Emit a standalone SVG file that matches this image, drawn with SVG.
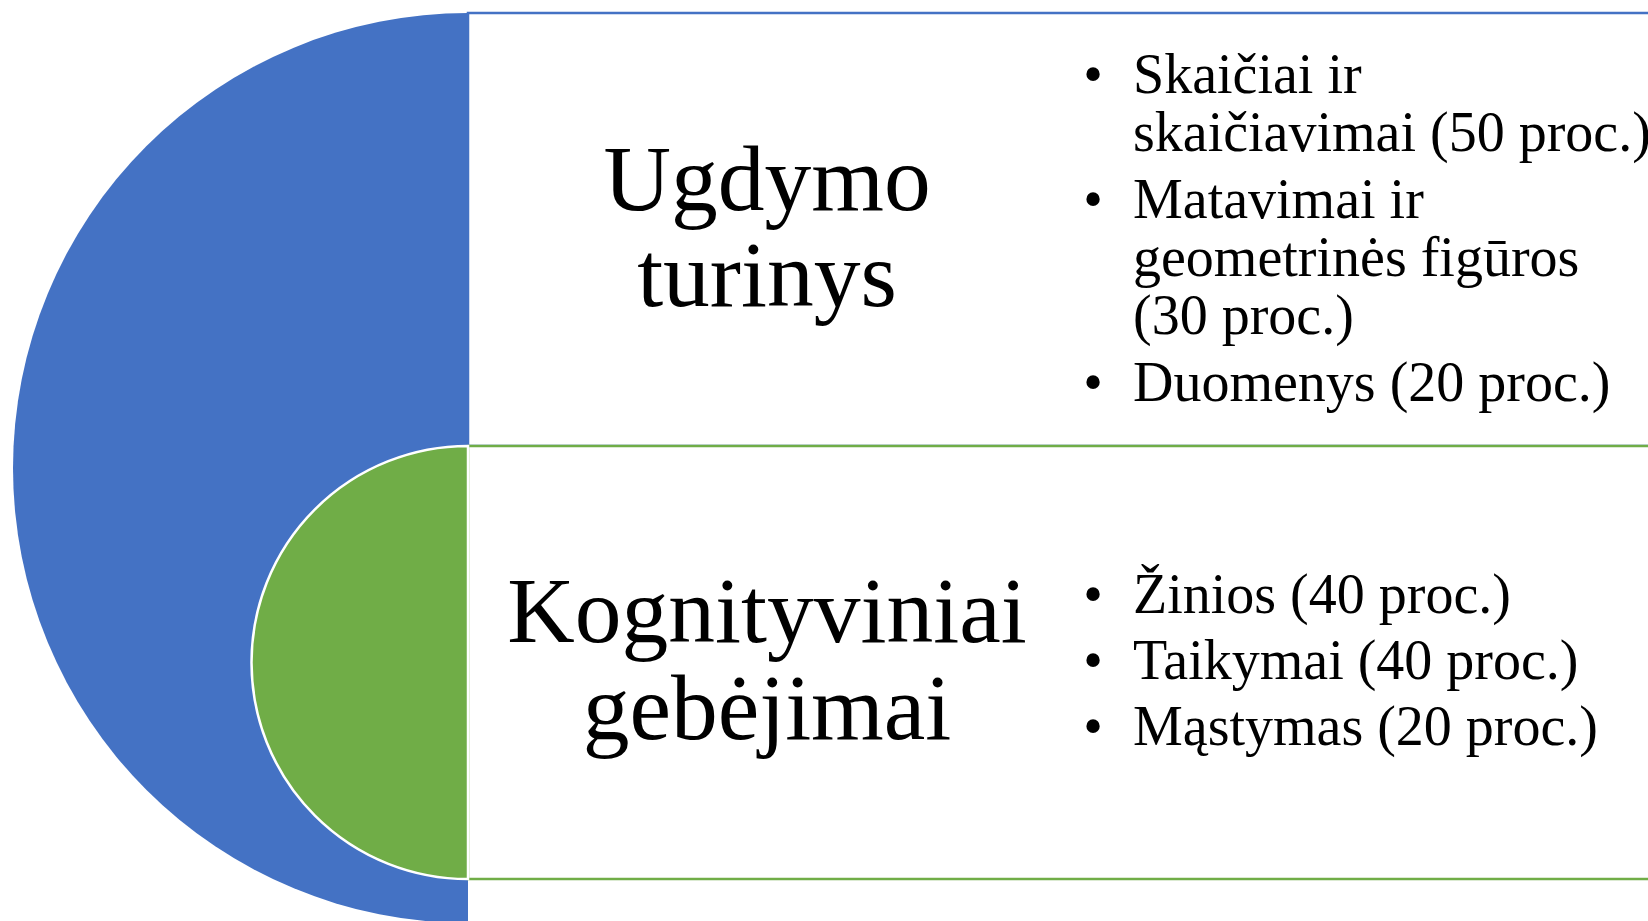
<svg xmlns="http://www.w3.org/2000/svg" width="1648" height="921" viewBox="0 0 1648 921">
<style>
.title{font-family:"Liberation Serif","Times New Roman",serif;font-size:93.5px;fill:#000;text-anchor:middle}
.item{font-family:"Liberation Serif","Times New Roman",serif;font-size:56px;fill:#000}
.dot{font-family:"Liberation Serif","Times New Roman",serif;font-size:56px;fill:#000;text-anchor:middle}
</style>
<rect width="1648" height="921" fill="#fff"/>
<g id="connectors"></g>
<g id="node-ugdymo">
<rect x="468" y="13" width="1200" height="433" fill="#fff" stroke="#4472C4" stroke-width="2.5"/>
<path d="M468,13 A455,455 0 0 0 468,923 Z" fill="#4472C4"/>
<text class="title" x="767" y="210">Ugdymo</text>
<text class="title" x="767" y="306">turinys</text>
<text class="dot" x="1093" y="93">•</text>
<text class="item" x="1133" y="93">Skaičiai ir</text>
<text class="item" x="1133" y="151">skaičiavimai (50 proc.)</text>
<text class="dot" x="1093" y="218">•</text>
<text class="item" x="1133" y="218">Matavimai ir</text>
<text class="item" x="1133" y="276">geometrinės figūros</text>
<text class="item" x="1133" y="334">(30 proc.)</text>
<text class="dot" x="1093" y="401">•</text>
<text class="item" x="1133" y="401">Duomenys (20 proc.)</text>
</g>
<g id="node-kognityviniai">
<rect x="468" y="446" width="1200" height="433" fill="#fff" stroke="#70AD47" stroke-width="2.5"/>
<path d="M468,446 A216.5,216.5 0 0 0 468,879 Z" fill="#70AD47" stroke="#fff" stroke-width="2.5"/>
<text class="title" x="767" y="642">Kognityviniai</text>
<text class="title" x="767" y="739">gebėjimai</text>
<text class="dot" x="1093" y="613">•</text>
<text class="item" x="1133" y="613">Žinios (40 proc.)</text>
<text class="dot" x="1093" y="679">•</text>
<text class="item" x="1133" y="679">Taikymai (40 proc.)</text>
<text class="dot" x="1093" y="745">•</text>
<text class="item" x="1133" y="745">Mąstymas (20 proc.)</text>
</g>
</svg>
